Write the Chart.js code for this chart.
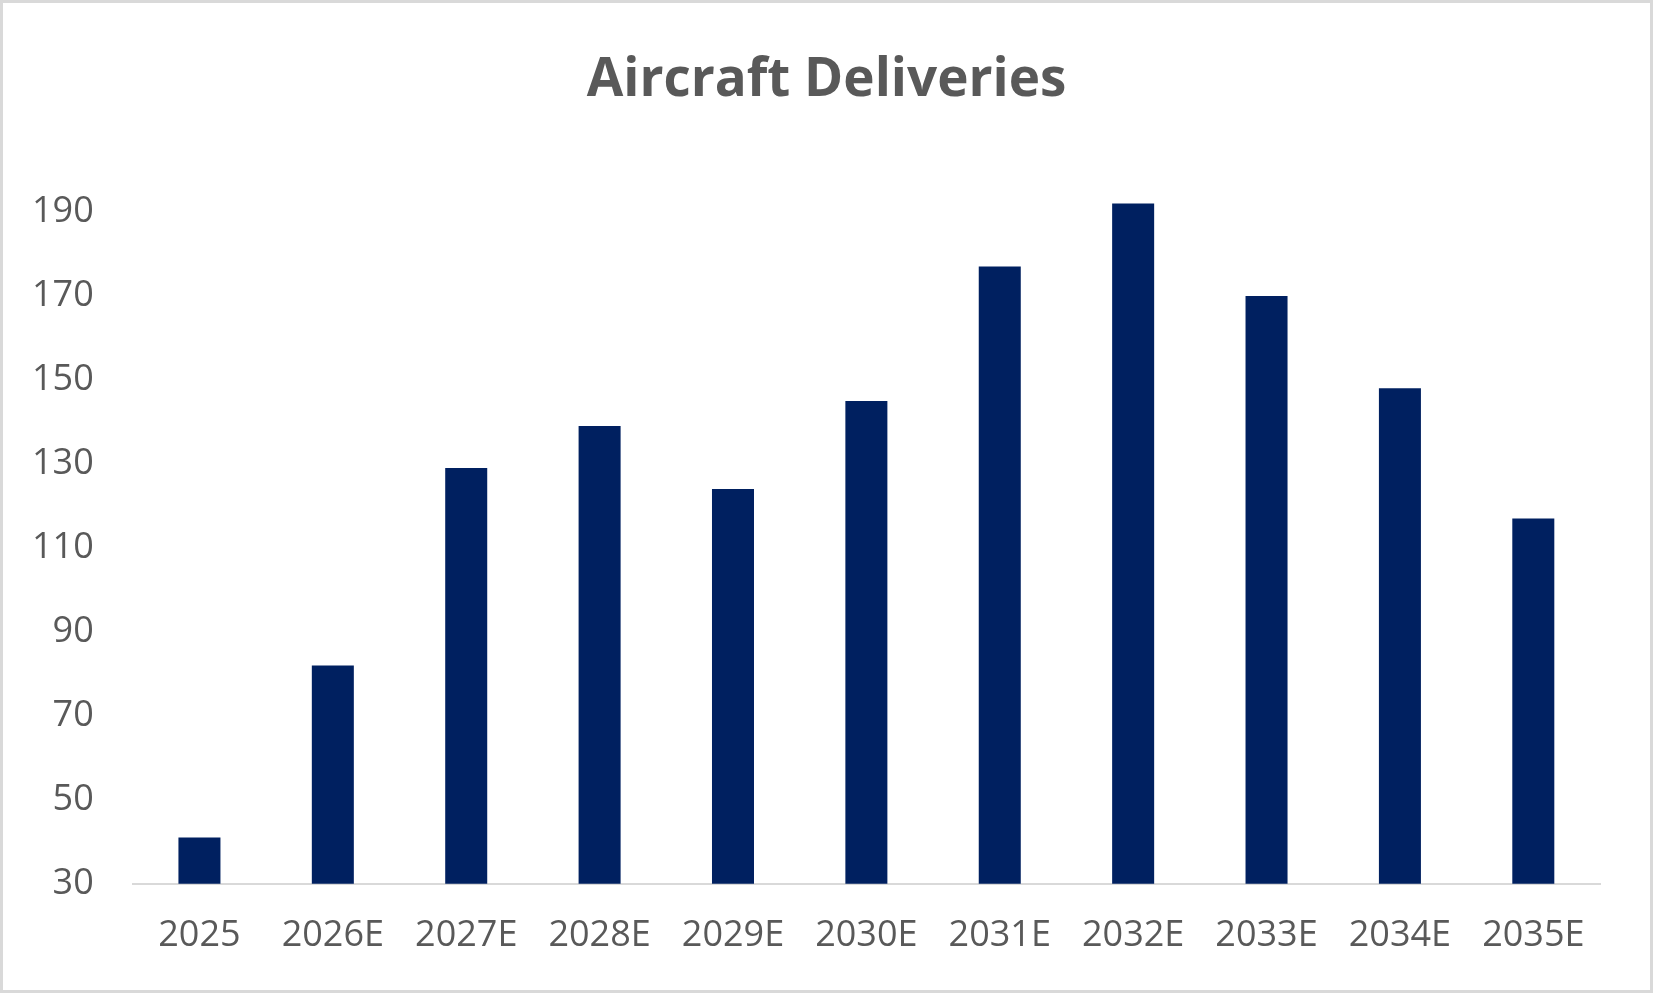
<!DOCTYPE html>
<html>
<head>
<meta charset="utf-8">
<title>Aircraft Deliveries</title>
<script src="https://cdn.jsdelivr.net/npm/chart.js"></script>
<style>
  html, body { margin: 0; padding: 0; background: #fff; }
  #wrap {
    width: 1653px; height: 993px;
    box-sizing: border-box;
    border: 3px solid #d9d9d9;
    background: #fff;
  }
  canvas { display: block; }
</style>
</head>
<body>
<div id="wrap"><canvas id="chart" width="1647" height="987"></canvas></div>
<script>
const years = ["2025", "2026E", "2027E", "2028E", "2029E", "2030E", "2031E", "2032E", "2033E", "2034E", "2035E"];
const deliveries = [41, 82, 129, 139, 124, 145, 177, 192, 170, 148, 117];
const yTicks = [30, 50, 70, 90, 110, 130, 150, 170, 190];
const chartTitle = "Aircraft Deliveries";

const textColor = "#595959";
const fontFamily = "'Open Sans', 'Liberation Sans', sans-serif";

// title centred on the whole canvas, like the Excel chart
const titlePlugin = {
  id: "centredTitle",
  afterDraw(chart) {
    const ctx = chart.ctx;
    ctx.save();
    ctx.fillStyle = textColor;
    ctx.font = `bold 53px ${fontFamily}`;
    ctx.textAlign = "center";
    ctx.textBaseline = "alphabetic";
    ctx.fillText(chartTitle, chart.width / 2, 93);
    ctx.restore();
  }
};

new Chart(document.getElementById("chart"), {
  type: "bar",
  data: {
    labels: years,
    datasets: [{
      label: chartTitle,
      data: deliveries,
      backgroundColor: "#002060",
      borderWidth: 0,
      barPercentage: 0.63,
      categoryPercentage: 0.5
    }]
  },
  options: {
    responsive: false,
    devicePixelRatio: 1,
    animation: false,
    layout: { padding: { top: 125, left: -10, right: 50, bottom: 3 } },
    plugins: {
      legend: { display: false },
      tooltip: { enabled: false },
      title: { display: false }
    },
    scales: {
      x: {
        grid: { display: false, drawTicks: false },
        border: { display: true, color: "#d9d9d9", width: 2 },
        ticks: {
          color: textColor,
          font: { family: fontFamily, size: 36 },
          padding: 30,
          maxRotation: 0
        }
      },
      y: {
        min: 30,
        max: 210,
        grid: { display: false, drawTicks: false },
        border: { display: false },
        afterBuildTicks: (axis) => {
          axis.ticks = yTicks.concat([210]).map(v => ({ value: v }));
        },
        ticks: {
          color: textColor,
          font: { family: fontFamily, size: 36 },
          padding: 39,
          callback: (v) => (yTicks.includes(v) ? String(v) : "")
        }
      }
    }
  },
  plugins: [titlePlugin]
});
</script>
</body>
</html>
